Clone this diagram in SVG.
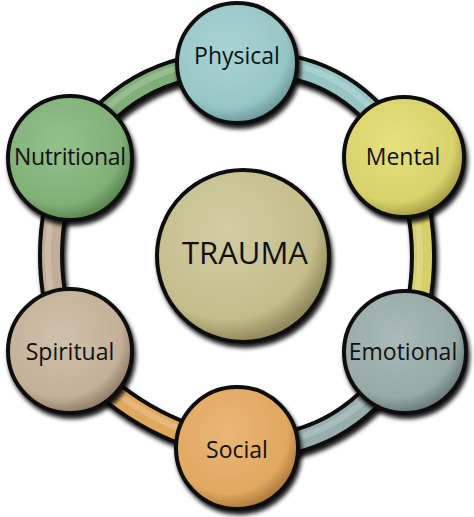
<svg xmlns="http://www.w3.org/2000/svg" width="474" height="517" viewBox="0 0 474 517">
<style>
.lbl{font-family:"Open Sans","Liberation Sans",sans-serif;font-size:23px;fill:#111;text-anchor:middle}
.big{font-size:31px}
.edge{stroke:#111;fill:none;stroke-width:26;stroke-linecap:round}
.band{fill:none;stroke-width:18;stroke-linecap:round}
.hl{fill:none;stroke-width:6;stroke-linecap:round;stroke:#fff;stroke-opacity:0.18}
.ring{stroke:#111;stroke-width:4}
</style>
<defs>
<filter id="sh" x="-20%" y="-20%" width="140%" height="140%">
<feGaussianBlur in="SourceAlpha" stdDeviation="2"/>
<feOffset dx="2" dy="3.5" result="o"/>
<feFlood flood-color="#000" flood-opacity="0.9"/>
<feComposite in2="o" operator="in"/>
<feMerge><feMergeNode/><feMergeNode in="SourceGraphic"/></feMerge>
</filter>
<radialGradient id="gP" cx="42%" cy="38%" r="62%"><stop offset="0" stop-color="#a9d3d3"/><stop offset="0.8" stop-color="#97c6c6"/><stop offset="1" stop-color="#6f9c9c"/></radialGradient>
<radialGradient id="gM" cx="42%" cy="38%" r="62%"><stop offset="0" stop-color="#e8e07e"/><stop offset="0.8" stop-color="#d9d16a"/><stop offset="1" stop-color="#a8a046"/></radialGradient>
<radialGradient id="gE" cx="42%" cy="38%" r="62%"><stop offset="0" stop-color="#a9bab8"/><stop offset="0.8" stop-color="#97aaa8"/><stop offset="1" stop-color="#6c7e7c"/></radialGradient>
<radialGradient id="gS" cx="42%" cy="38%" r="62%"><stop offset="0" stop-color="#eab676"/><stop offset="0.8" stop-color="#e0a860"/><stop offset="1" stop-color="#b07c3c"/></radialGradient>
<radialGradient id="gSp" cx="42%" cy="38%" r="62%"><stop offset="0" stop-color="#d0c0aa"/><stop offset="0.8" stop-color="#c4b098"/><stop offset="1" stop-color="#948068"/></radialGradient>
<radialGradient id="gN" cx="42%" cy="38%" r="62%"><stop offset="0" stop-color="#94c08c"/><stop offset="0.8" stop-color="#80b078"/><stop offset="1" stop-color="#5a8652"/></radialGradient>
<radialGradient id="gT" cx="40%" cy="35%" r="65%"><stop offset="0" stop-color="#d2cda2"/><stop offset="0.8" stop-color="#c3bd8b"/><stop offset="1" stop-color="#918b5c"/></radialGradient>
</defs>
<g id="connectors">
<g filter="url(#sh)">
<path class="edge" d="M237,63 Q351.5,58 404,157"/>
<path class="edge" d="M404,157 Q441.5,255.5 405,352"/>
<path class="edge" d="M405,352 Q349,450 237,448"/>
<path class="edge" d="M237,448 Q136.5,430.5 70,351"/>
<path class="edge" d="M70,351 Q32,255.5 70,158"/>
<path class="edge" d="M70,158 Q126.5,63.5 237,63"/>
</g>
<path class="band" stroke="#97c5c5" d="M237,63 Q351.5,58 404,157"/>
<path class="band" stroke="#d8cf68" d="M404,157 Q441.5,255.5 405,352"/>
<path class="band" stroke="#98aeac" d="M405,352 Q349,450 237,448"/>
<path class="band" stroke="#e0a85e" d="M237,448 Q136.5,430.5 70,351"/>
<path class="band" stroke="#c2ae96" d="M70,351 Q32,255.5 70,158"/>
<path class="band" stroke="#80ae78" d="M70,158 Q126.5,63.5 237,63"/>
<path class="hl" d="M237,60 Q351.5,55 404,154"/>
<path class="hl" d="M401,157 Q438.5,255.5 402,352"/>
<path class="hl" d="M405,349 Q349,447 237,445"/>
<path class="hl" d="M237,445 Q136.5,427.5 70,348"/>
<path class="hl" d="M67,351 Q29,255.5 67,158"/>
<path class="hl" d="M70,155 Q126.5,60.5 237,60"/>
</g>
<g id="trauma"><circle cx="243" cy="256" r="86" fill="url(#gT)" class="ring" filter="url(#sh)"/><text class="lbl big" x="245" y="264">TRAUMA</text></g>
<g id="physical"><circle cx="237" cy="63" r="60" fill="url(#gP)" class="ring" filter="url(#sh)"/><text class="lbl" x="237" y="64">Physical</text></g>
<g id="mental"><circle cx="404" cy="157" r="60" fill="url(#gM)" class="ring" filter="url(#sh)"/><text class="lbl" x="403" y="165">Mental</text></g>
<g id="emotional"><circle cx="405" cy="352" r="61" fill="url(#gE)" class="ring" filter="url(#sh)"/><text class="lbl" x="403" y="360">Emotional</text></g>
<g id="social"><circle cx="237" cy="448" r="61" fill="url(#gS)" class="ring" filter="url(#sh)"/><text class="lbl" x="237" y="458">Social</text></g>
<g id="spiritual"><circle cx="70" cy="351" r="62" fill="url(#gSp)" class="ring" filter="url(#sh)"/><text class="lbl" x="70" y="360">Spiritual</text></g>
<g id="nutritional"><circle cx="70" cy="158" r="62" fill="url(#gN)" class="ring" filter="url(#sh)"/><text class="lbl" x="70" y="165" textLength="112">Nutritional</text></g>
</svg>
